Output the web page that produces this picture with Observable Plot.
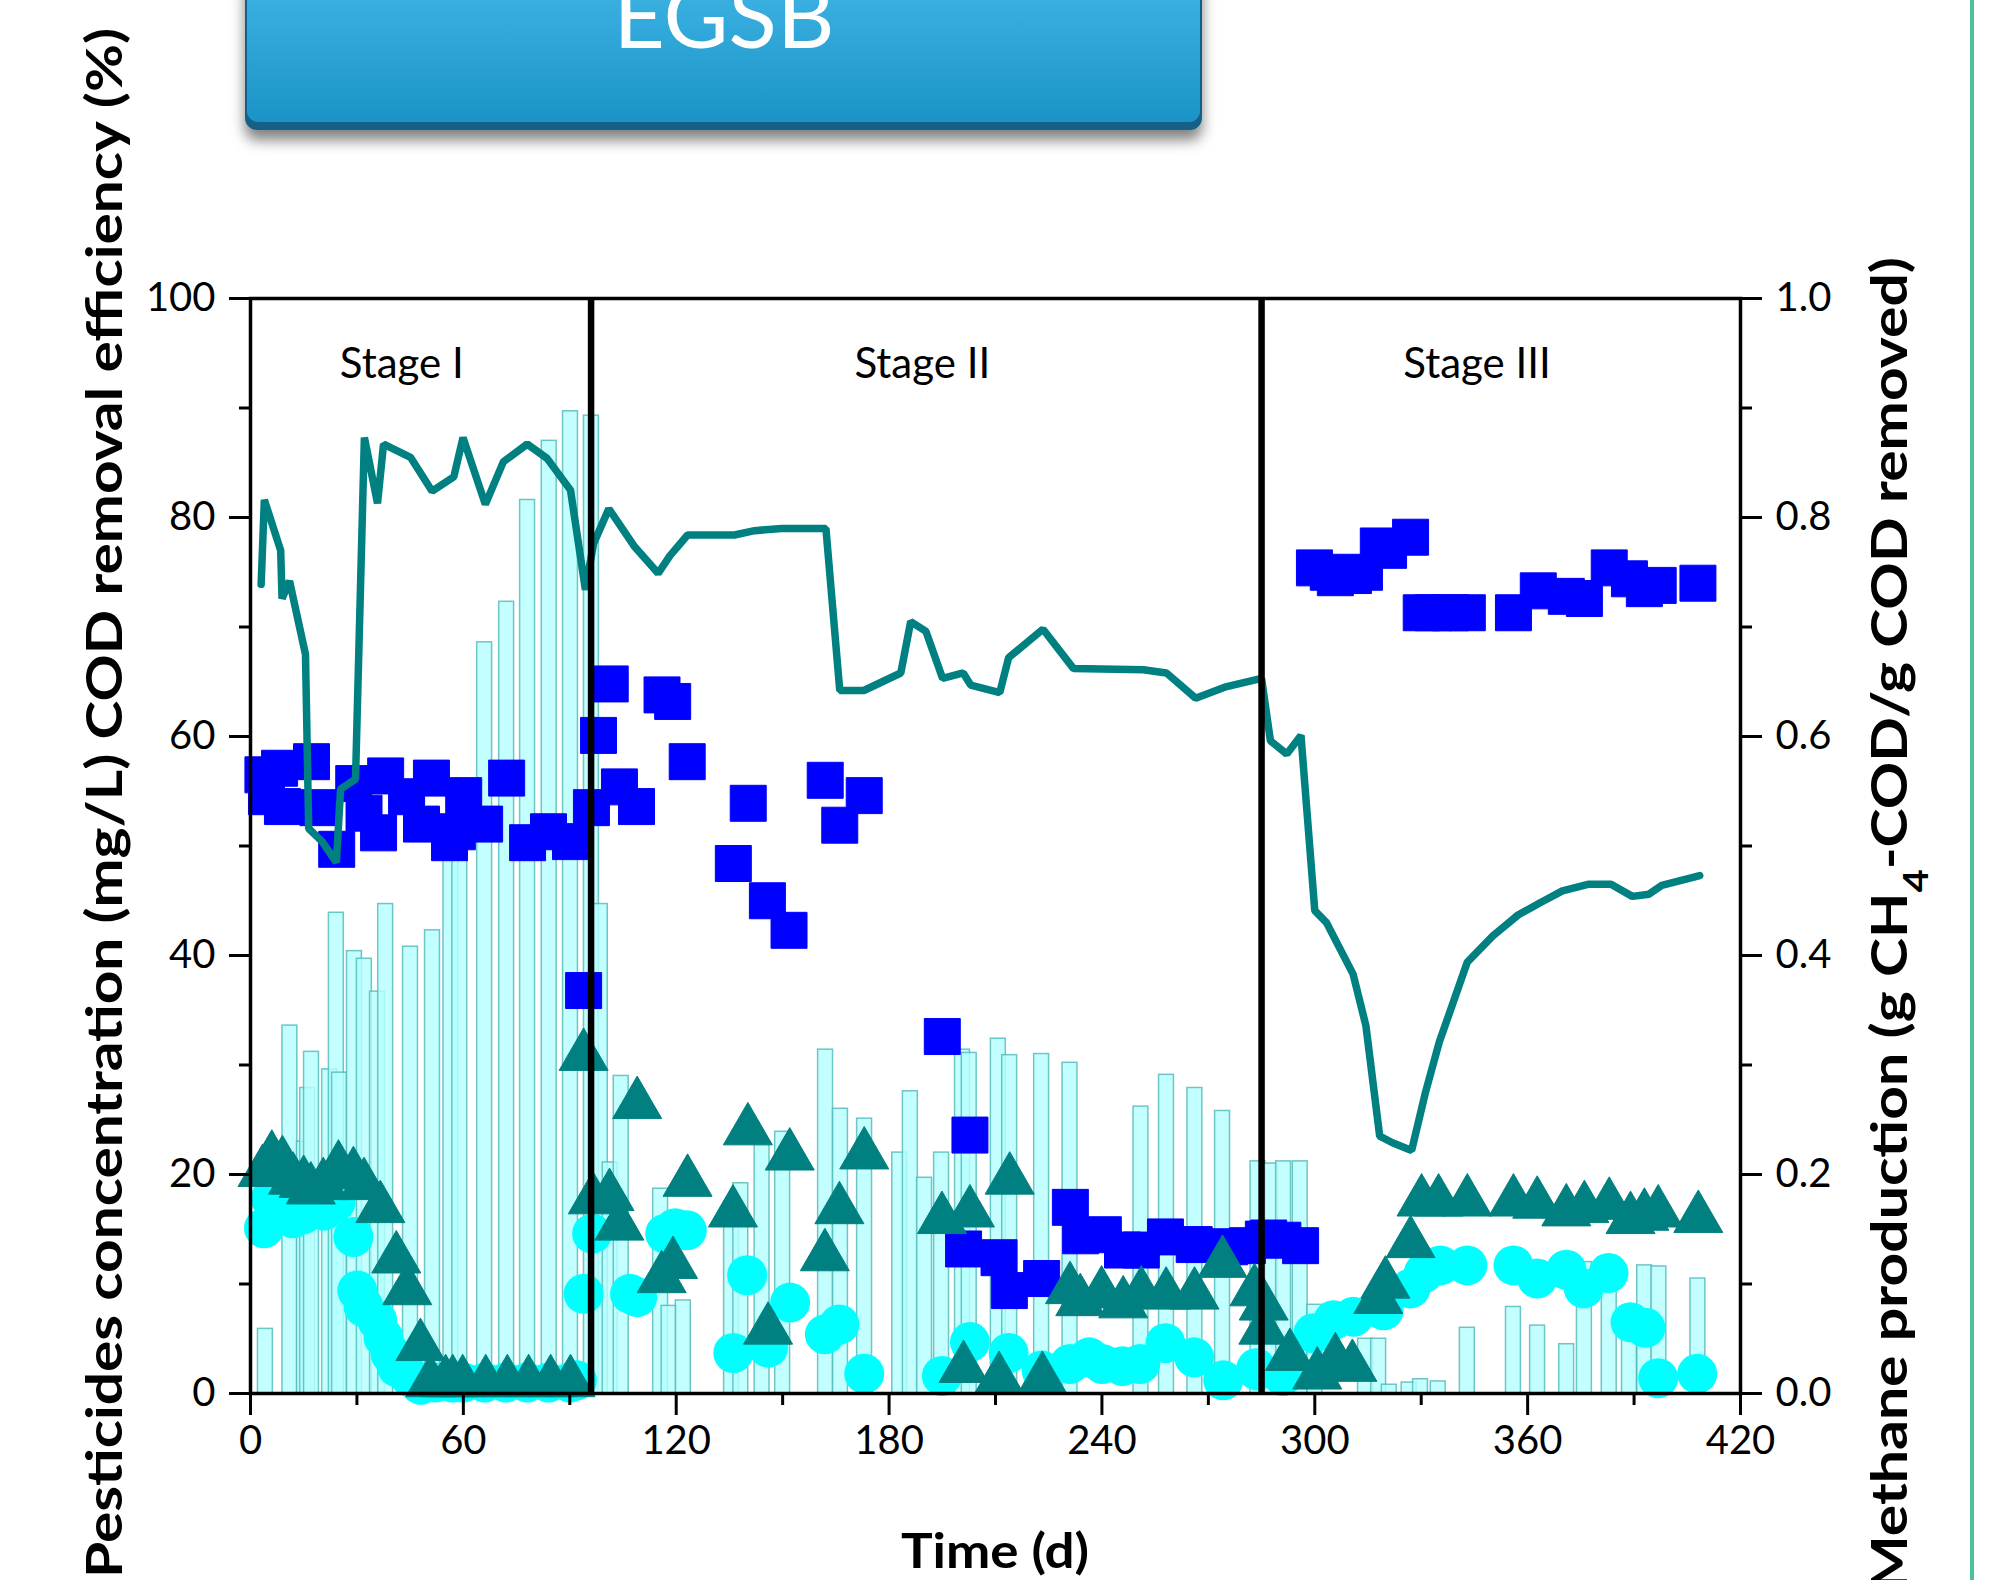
<!DOCTYPE html>
<html>
<head>
<meta charset="utf-8">
<script src="https://cdn.jsdelivr.net/npm/d3@7"></script>
<script src="https://cdn.jsdelivr.net/npm/@observablehq/plot@0.6"></script>
<style>
  html, body { margin: 0; padding: 0; background: #fff; }
  #wrap { position: relative; width: 1989px; height: 1580px; overflow: hidden; background: #fff; }
  #chart { position: absolute; left: 0; top: 0; }
  #deco { position: absolute; left: 0; top: 0; pointer-events: none; }
</style>
</head>
<body>
<div id="wrap">
  <div id="chart"></div>
  <svg id="deco" width="1989" height="1580">
    <defs>
      <linearGradient id="bg" x1="0" y1="0" x2="0" y2="1">
        <stop offset="0" stop-color="#3fb6e6"/>
        <stop offset="1" stop-color="#1c93c6"/>
      </linearGradient>
      <filter id="sh" x="-5%" y="-20%" width="110%" height="160%">
        <feDropShadow dx="0" dy="10" stdDeviation="7" flood-color="#000" flood-opacity="0.5"/>
      </filter>
    </defs>
    <rect x="245" y="-30" width="957" height="160" rx="12" fill="#175f86" filter="url(#sh)"/>
    <rect x="247" y="-30" width="953" height="152" rx="11" fill="url(#bg)"/>
    <text id="bannerText" x="724" y="48" text-anchor="middle" fill="#fff" font-family="Lato, sans-serif" font-size="89"></text>
    <rect x="1970" y="0" width="4" height="1580" fill="#4cc19e"/>
  </svg>
</div>
<script>
// ---------- data ----------
const bannerLabel = "EGSB";
const stageNames = ["Stage I", "Stage II", "Stage III"];
const stageBounds = [0, 96, 285, 420];
const xTicks = [0, 60, 120, 180, 240, 300, 360, 420];
const xMinorTicks = [30, 90, 150, 210, 270, 330, 390];
const yTicks = [0, 20, 40, 60, 80, 100];
const yMinorTicks = [10, 30, 50, 70, 90];
const xTitle = "Time (d)";
const yLeftTitle = "Pesticides concentration (mg/L) COD removal efficiency (%)";
const yRightTitle = ["Methane production (g CH", "4", "-COD/g COD removed)"];

// teal line [day, value]
const lineSeries = [
  [3.0,73.9],[3.9,81.6],[8.5,77.0],[8.9,72.6],[11.0,74.2],[15.5,67.5],[16.4,51.6],[20.2,50.4],
  [24.2,48.5],[25.4,55.2],[29.6,56.1],[32.1,87.3],[35.8,81.3],[37.5,86.7],[45.1,85.5],[51.2,82.4],
  [57.3,83.7],[59.9,87.3],[66.2,81.2],[71.3,85.1],[78.0,86.7],[83.6,85.4],[90.2,82.5],[94.4,73.4],
  [96.7,77.6],[101.0,80.8],[108.1,77.4],[114.9,74.9],[118.2,76.5],[123.2,78.4],[136.4,78.4],
  [142.1,78.8],[149.7,79.0],[162.2,79.0],[166.1,64.2],[172.9,64.2],[183.3,65.8],[186.1,70.5],
  [190.4,69.6],[195.1,65.3],[200.9,65.8],[203.0,64.7],[211.2,64.0],[213.7,67.2],[223.4,69.8],
  [232.0,66.2],[251.7,66.1],[258.2,65.8],[266.4,63.5],[274.6,64.5],[285.0,65.3],[287.5,59.6],
  [292.1,58.4],[296.1,60.1],[300.0,44.1],[303.3,43.0],[310.8,38.3],[314.4,33.6],[318.3,23.5],
  [321.9,22.9],[327.3,22.2],[331.2,27.5],[335.1,32.1],[343.0,39.4],[350.2,41.8],[357.3,43.7],
  [363.4,44.8],[369.8,45.9],[377.0,46.5],[383.5,46.5],[389.5,45.4],[394.2,45.6],[397.8,46.4],[408.5,47.3]
];

// blue squares [day, value]
const squareSeries = [
  [3.5,56.5],[4.5,54.5],[8.2,57.1],[9.0,53.6],[17.2,57.7],[19.0,53.5],[24.3,49.7],[29.1,55.7],
  [32.0,53.0],[36.1,51.2],[38.1,56.4],[44.0,54.5],[48.2,52.0],[51.0,56.2],[56.1,50.3],[58.3,51.3],
  [60.1,54.6],[66.0,52.0],[72.2,56.2],[78.1,50.3],[84.0,51.3],[90.2,50.4],[93.9,36.8],[96.1,53.5],
  [98.1,60.1],[101.4,64.8],[104.0,55.4],[108.8,53.6],[116.0,63.8],[119.0,63.2],[123.1,57.7],
  [136.1,48.4],[140.3,53.9],[145.7,45.0],[151.8,42.3],[162.0,56.0],[166.1,51.9],[173.0,54.6],
  [195.0,32.6],[202.8,23.6],[201.0,13.2],[211.0,12.4],[213.9,9.4],[223.0,10.5],[231.1,17.0],
  [234.0,14.4],[240.4,14.5],[245.8,13.1],[251.1,13.1],[257.9,14.3],[266.0,13.6],[276.0,13.4],
  [281.0,13.5],[285.5,14.1],[287.0,14.2],[291.0,14.0],[296.0,13.5],
  [299.9,75.4],[303.8,75.0],[305.8,74.5],[310.9,74.7],[314.0,75.0],[317.9,77.4],[320.8,77.0],
  [327.0,78.2],[330.0,71.3],[333.4,71.3],[338.2,71.3],[343.0,71.3],[356.0,71.3],[363.0,73.3],
  [370.9,72.8],[376.0,72.6],[383.0,75.4],[388.7,74.4],[392.9,73.5],[396.8,73.8],[408.0,74.0]
];

// cyan circles [day, value]
const circleSeries = [
  [3.8,15.1],[5.7,17.8],[9.3,17.6],[12.0,16.0],[15.0,16.4],[20.6,16.7],[24.0,17.5],[29.0,14.3],
  [30.1,9.4],[31.9,7.9],[35.7,6.7],[37.5,5.1],[39.5,3.6],[41.3,2.4],[45.0,1.5],[48.0,0.8],
  [52.0,1.0],[57.0,1.0],[60.0,1.0],[66.0,1.0],[72.0,1.0],[78.0,1.0],[84.0,1.0],[90.0,1.0],
  [92.0,1.2],[93.9,9.1],[96.3,14.6],[107.0,9.1],[109.0,8.8],[116.9,14.6],[119.7,15.1],[123.0,14.9],
  [136.1,3.7],[140.0,10.8],[145.9,4.2],[152.1,8.3],[161.9,5.4],[166.0,6.3],[173.0,1.8],
  [194.9,1.6],[202.8,4.7],[213.7,3.7],[223.0,2.1],[231.0,2.7],[236.4,3.3],[240.1,2.7],[245.8,2.5],
  [250.8,2.7],[257.9,4.6],[266.0,3.3],[274.2,1.2],[283.5,2.3],[283.8,2.1],[291.0,1.6],
  [299.6,5.5],[305.3,6.7],[310.9,7.0],[319.4,7.6],[327.0,9.6],[330.7,11.0],[335.4,11.7],
  [343.0,11.7],[356.0,11.7],[362.7,10.5],[370.9,11.3],[375.8,9.6],[382.8,11.0],[389.0,6.5],
  [393.2,6.0],[396.8,1.4],[407.8,1.8]
];

// teal triangles [day, value]
const triangleSeries = [
  [3.4,20.2],[6.0,21.5],[9.0,21.0],[12.0,19.5],[15.0,19.2],[17.0,18.6],[20.5,19.0],[24.8,20.6],
  [29.0,20.0],[32.0,19.0],[36.6,16.9],[41.1,12.3],[44.2,9.4],[47.9,4.3],[50.7,1.0],[55.0,1.0],
  [57.0,1.0],[59.8,1.0],[66.3,1.0],[72.4,1.0],[78.4,1.0],[84.6,1.0],[90.2,1.0],[93.9,30.8],
  [96.5,17.7],[101.2,18.0],[104.0,15.3],[109.0,26.4],[115.9,10.5],[119.1,11.8],[123.2,19.3],
  [136.0,16.5],[140.2,24.0],[145.9,5.8],[152.0,21.7],[161.9,12.5],[166.0,16.8],[173.0,21.8],
  [194.9,15.9],[202.8,16.5],[214.0,19.5],[201.0,2.3],[211.0,1.3],[223.2,1.3],[231.0,9.5],
  [233.9,8.4],[239.9,9.1],[246.0,8.2],[251.1,9.1],[258.1,9.0],[266.1,9.0],[274.0,11.9],
  [283.0,9.3],[285.5,5.8],[285.6,8.0],[293.0,3.4],[300.7,1.7],[305.8,3.0],[310.6,2.4],
  [317.9,8.6],[319.9,10.0],[327.0,13.7],[330.1,17.5],[334.9,17.5],[343.0,17.5],[356.0,17.5],
  [362.7,17.3],[370.9,16.6],[376.0,16.9],[383.0,17.2],[389.0,15.9],[392.9,16.2],[396.8,16.5],[408.1,16.0]
];

// light cyan bars [day, value]
const barSeries = [
  [4.2,5.9],[11.1,33.6],[15.2,23.0],[16.1,27.9],[17.2,31.2],[22.3,29.6],[24.2,43.9],[25.1,29.3],
  [29.3,40.4],[32.1,39.7],[35.8,36.7],[38.1,44.7],[45.1,40.8],[51.3,42.3],[56.5,52.0],[59.0,53.0],
  [66.0,68.6],[72.2,72.3],[78.1,81.6],[84.2,87.0],[90.2,89.7],[96.1,89.3],[98.6,44.7],[101.4,21.1],
  [104.5,29.0],[115.6,18.7],[118.0,8.0],[122.0,8.5],[135.6,17.5],[138.2,19.2],[144.2,22.9],
  [150.0,23.9],[162.1,31.4],[166.3,26.0],[173.1,25.1],[183.0,22.0],[186.0,27.6],[190.0,19.7],
  [194.8,22.0],[200.7,31.4],[202.6,31.1],[210.8,32.4],[214.0,30.9],[223.0,31.0],[231.0,30.2],
  [251.0,26.2],[258.2,29.1],[266.2,27.9],[274.0,25.8],[284.0,21.2],[287.4,21.0],[291.2,21.2],
  [295.9,21.2],[300.0,8.1],[314.3,5.0],[318.0,5.0],[321.0,0.8],[326.6,1.0],[329.8,1.3],[334.8,1.1],
  [343.0,6.0],[356.0,7.9],[362.8,6.2],[371.0,4.5],[376.0,12.0],[383.0,10.0],[388.7,7.0],
  [393.0,11.7],[397.0,11.6],[408.0,10.5]
];

// ---------- chart ----------
const stageMarks = stageNames.map((name, i) =>
  Plot.text([name], {
    x: (stageBounds[i] + stageBounds[i + 1]) / 2,
    frameAnchor: "top",
    lineAnchor: "bottom",
    dy: 79,
    dx: [-19, -4, -24][i],
    fontSize: 42,
    fill: "#000"
  })
);

const axisStyle = {strokeWidth: 3, label: null, fontSize: 40};

const chart = Plot.plot({
  width: 1989,
  height: 1580,
  marginLeft: 250,
  marginRight: 249,
  marginTop: 298,
  marginBottom: 187,
  style: {fontFamily: "Lato, sans-serif", fontSize: "40px", color: "#000", background: "transparent", overflow: "visible"},
  x: {domain: [0, 420], axis: null},
  y: {domain: [0, 100], axis: null},
  marks: [
    Plot.rect(barSeries, {
      x1: d => d[0] - 2.1, x2: d => d[0] + 2.1, y1: 0, y2: d => d[1],
      fill: "#b5ffff", fillOpacity: 0.8, stroke: "#4fb8b8", strokeOpacity: 0.8, strokeWidth: 1.5
    }),
    Plot.dot(circleSeries, {x: d => d[0], y: d => d[1], r: 20, symbol: "circle", fill: "#00ffff"}),
    Plot.dot(squareSeries, {x: d => d[0], y: d => d[1], r: 20.3, symbol: "square", fill: "#0000ff", stroke: "#0000ff", strokeWidth: 1, strokeLinejoin: "round"}),
    Plot.dot(triangleSeries, {x: d => d[0], y: d => d[1], r: 18.2, symbol: "triangle", fill: "#008080", stroke: "#008080", strokeWidth: 1}),
    Plot.line(lineSeries, {x: d => d[0], y: d => d[1], stroke: "#008080", strokeWidth: 7.5, strokeLinejoin: "miter", strokeLinecap: "round"}),
    Plot.ruleX(stageBounds.slice(1, 3), {y1: 0, y2: 100, stroke: "#000", strokeWidth: 6.5}),
    ...stageMarks,
    Plot.frame({stroke: "#000", strokeWidth: 3.5}),
    Plot.axisY({anchor: "left", ticks: yTicks, tickSize: 21, tickPadding: 14, ...axisStyle}),
    Plot.axisY({anchor: "left", ticks: yMinorTicks, tickSize: 11, text: null, ...axisStyle}),
    Plot.axisY({anchor: "right", ticks: yTicks, tickSize: 21, tickPadding: 14, tickFormat: d => (d / 100).toFixed(1), ...axisStyle}),
    Plot.axisY({anchor: "right", ticks: yMinorTicks, tickSize: 11, text: null, ...axisStyle}),
    Plot.axisX({anchor: "bottom", ticks: xTicks, tickSize: 22, tickPadding: 10, ...axisStyle}),
    Plot.axisX({anchor: "bottom", ticks: xMinorTicks, tickSize: 12, text: null, ...axisStyle})
  ]
});

document.getElementById("chart").appendChild(chart);
document.getElementById("bannerText").textContent = bannerLabel;

const svg = d3.select(chart);
const titleFont = {"font-family": "Lato, sans-serif", "font-weight": "bold", "fill": "#000"};
function applyAttrs(sel, attrs) { for (const k in attrs) sel.attr(k, attrs[k]); return sel; }

applyAttrs(svg.append("text"), titleFont)
  .attr("transform", "translate(122,803) rotate(-90)")
  .attr("text-anchor", "middle")
  .attr("font-size", 50)
  .attr("textLength", 1550)
  .attr("lengthAdjust", "spacingAndGlyphs")
  .text(yLeftTitle);

const rt = applyAttrs(svg.append("text"), titleFont)
  .attr("transform", "translate(1907,924) rotate(-90)")
  .attr("text-anchor", "middle")
  .attr("font-size", 50)
  .attr("textLength", 1334)
  .attr("lengthAdjust", "spacingAndGlyphs");
rt.append("tspan").text(yRightTitle[0]);
rt.append("tspan").attr("baseline-shift", "sub").attr("font-size", 34).text(yRightTitle[1]);
rt.append("tspan").text(yRightTitle[2]);

applyAttrs(svg.append("text"), titleFont)
  .attr("x", 995)
  .attr("y", 1568)
  .attr("text-anchor", "middle")
  .attr("font-size", 48)
  .attr("textLength", 188)
  .attr("lengthAdjust", "spacingAndGlyphs")
  .text(xTitle);
</script>
</body>
</html>
